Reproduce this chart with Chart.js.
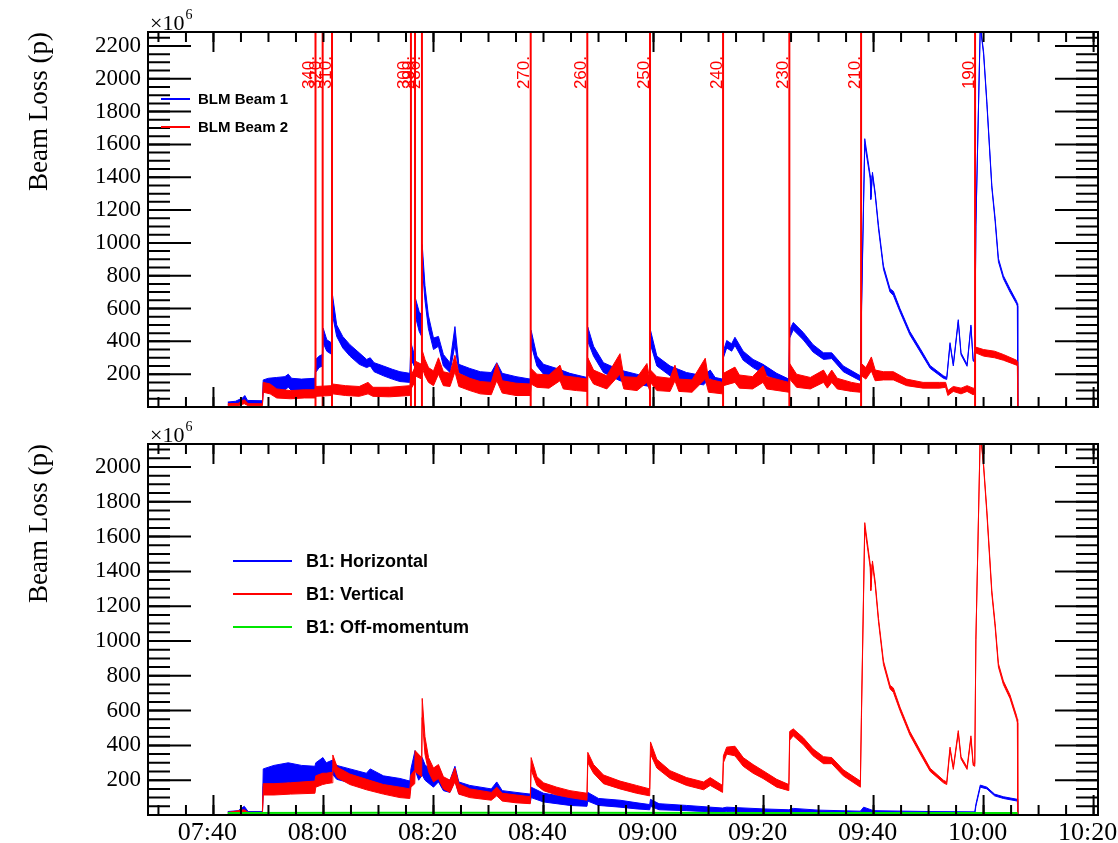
<!DOCTYPE html>
<html><head><meta charset="utf-8">
<script src="https://cdn.jsdelivr.net/npm/chart.js@4.4.1/dist/chart.umd.min.js"></script>
<style>
html,body{margin:0;padding:0;background:#fff;}
#wrap{position:relative;width:1118px;height:843px;overflow:hidden;}
canvas{position:absolute;left:0;}
#top{top:0;}
#bot{top:421px;}
</style></head><body>
<div id="wrap">
<canvas id="top" width="1118" height="422"></canvas>
<canvas id="bot" width="1118" height="422"></canvas>
</div>
<script>
// time = minutes since 07:00
// ---- top panel: [time, low edge of noise band, high edge] ----
const beam1 = [
[42.6,15,30],[44.0,18,35],[45.3,25,55],[45.7,40,70],[46.2,20,40],[48.9,18,38],
[49.05,95,165],[50.0,100,175],[51.5,95,180],[53.0,105,185],[53.6,120,200],[54.2,100,175],[56.0,100,170],[58.45,100,175],
[58.6,210,290],[59.2,240,310],[59.8,250,320],[59.95,390,480],[60.6,340,410],[61.5,320,390],[61.65,560,680],
[62.4,430,500],[63.5,360,430],[64.8,310,380],[66.5,260,330],[67.85,240,290],[68.5,250,300],[69.2,215,270],
[70.9,190,250],[72.5,170,230],[73.9,155,215],[75.7,150,205],[75.9,290,390],[76.5,250,320],[76.65,560,670],
[77.4,460,580],[77.85,430,560],[77.95,860,990],[78.45,650,740],[79.06,480,560],[80.0,350,420],[80.9,370,430],
[81.8,250,320],[83.0,210,270],[83.9,380,490],[84.6,210,260],[86.6,170,235],[88.5,150,215],[90.5,140,210],
[91.5,200,270],[92.5,140,205],[95.0,120,185],[97.6,110,170],[97.75,380,467],[98.8,250,310],[100.0,200,260],
[102.4,170,235],[104.8,145,205],[107.9,120,180],[108.05,400,487],[109.1,310,370],[110.9,210,270],[113.9,160,225],
[116.9,140,200],[119.3,125,180],[119.45,380,467],[120.6,250,310],[123.0,190,250],[126.0,150,210],[129.1,135,190],
[130.3,175,225],[131.2,135,180],[132.55,120,170],[132.7,300,340],[133.3,360,405],[134.2,340,385],[134.8,375,425],
[136.3,285,340],[138.1,240,290],[139.9,205,260],[142.4,160,205],[144.6,135,170],[144.75,420,470],[145.4,470,515],
[147.2,410,455],[149.0,335,380],[150.9,290,330],[152.4,295,330],[154.5,215,250],[157.6,160,190],[157.8,560,600],
[158.4,1600,1635],[159.4,1390,1410],[159.5,1265,1280],[159.8,1415,1430],[160.3,1290,1305],[160.9,1085,1105],
[161.8,840,860],[163.0,700,720],[163.6,680,705],[164.8,580,600],[166.6,440,460],[168.5,335,355],[170.3,235,252],
[172.7,175,190],[173.3,168,180],[173.9,380,392],[174.5,250,260],[175.4,520,532],[175.9,318,330],[177.0,248,260],
[177.7,490,500],[178.1,280,290],[178.4,275,285],[178.6,1100,1110],[179.4,2320,2330],[180.0,2150,2165],
[180.6,1845,1860],[181.5,1335,1350],[182.1,1130,1150],[182.7,885,905],[183.6,782,800],[184.8,700,720],
[186.0,628,645],[186.15,615,630],[186.2,0,0]
];
const beam2 = [
[42.6,8,20],[44.5,8,22],[45.6,20,45],[46.3,8,20],[48.9,8,20],[49.05,90,150],[50.3,80,140],[51.5,55,110],
[54.0,50,100],[56.5,55,105],[58.45,55,105],[58.6,65,125],[61.5,70,130],[61.65,80,140],[64.0,70,130],[66.5,65,125],
[68.1,80,150],[69.0,65,120],[72.0,62,120],[75.7,70,130],[75.9,110,190],[76.6,150,240],[76.65,190,280],[77.85,170,260],
[77.95,240,345],[78.45,190,290],[79.1,150,240],[80.0,130,220],[80.9,200,300],[81.8,130,215],[83.0,125,205],
[83.9,215,315],[84.6,125,205],[86.6,100,175],[88.5,80,155],[90.5,75,150],[91.5,160,265],[92.5,85,160],[95.0,70,145],
[97.6,70,140],[97.75,140,235],[98.8,120,200],[101.0,115,195],[103.0,160,255],[103.6,110,190],[106.0,100,180],
[107.9,95,170],[108.05,200,300],[109.1,140,225],[111.5,110,190],[113.9,200,325],[114.6,110,185],[117.0,100,180],
[118.8,150,265],[119.3,100,170],[119.45,150,225],[120.6,100,185],[123.0,95,175],[123.9,160,255],[124.6,95,170],
[127.0,90,165],[129.4,170,297],[130.0,90,170],[132.55,80,150],[132.7,130,205],[134.8,150,243],[135.6,115,195],
[138.0,110,185],[139.9,150,250],[140.6,110,185],[144.6,90,150],[144.75,170,265],[146.0,120,200],[148.5,110,180],
[150.9,150,225],[151.6,115,185],[152.4,150,225],[153.4,110,175],[156.0,95,150],[157.6,90,140],[157.8,190,265],
[158.6,170,240],[159.6,220,305],[160.3,160,225],[161.8,165,215],[163.6,165,215],[166.0,130,170],[169.0,115,150],
[172.0,115,150],[173.1,120,150],[173.5,70,100],[174.5,95,125],[175.9,80,115],[177.0,95,130],[178.1,75,115],
[178.4,80,115],[178.55,330,365],[180.0,310,350],[182.0,300,340],[183.6,285,320],[186.0,255,285],[186.15,250,275],
[186.2,0,0]
];
const collimatorTimes = [58.55,59.85,61.55,75.9,76.64,77.9,97.67,107.96,119.36,132.64,144.69,157.73,178.45];
const collimatorLabels = ['340.','320.','310.','300.','290.','280.','270.','260.','250.','240.','230.','210.','190.'];

// ---- bottom panel ----
const horizontal = [
[42.6,5,20],[44.5,8,25],[45.6,15,50],[46.3,5,20],[48.9,5,20],[49.05,165,265],[51.0,175,285],[53.6,185,300],
[56.0,175,285],[58.45,175,280],[58.6,210,300],[59.9,240,330],[60.5,220,300],[61.6,235,315],[62.4,205,285],
[64.8,185,265],[67.8,160,240],[68.5,180,265],[70.9,150,225],[73.9,135,210],[75.7,125,195],[75.9,175,265],
[76.65,260,370],[77.3,200,290],[77.95,230,330],[78.45,200,290],[80.0,160,240],[80.9,190,280],[81.8,140,210],
[83.0,130,200],[83.9,200,280],[84.6,120,190],[86.6,110,170],[90.5,90,150],[91.5,130,190],[92.5,85,140],
[95.0,75,130],[97.6,70,120],[97.75,100,160],[100.0,75,125],[104.8,55,100],[107.9,50,90],[108.05,80,130],
[110.0,55,95],[113.9,45,85],[117.0,35,70],[119.3,30,60],[119.45,50,90],[121.0,30,65],[126.0,25,55],
[132.55,15,40],[133.3,20,45],[140.0,10,35],[144.6,10,30],[145.4,12,38],[150.0,8,28],[157.6,6,22],
[158.2,15,45],[160.0,8,25],[170.0,5,20],[178.4,5,18],[178.6,50,62],[179.4,160,172],[180.6,150,160],
[182.0,110,120],[183.6,95,105],[186.15,80,90],[186.2,0,0]
];
const vertical = [
[42.6,5,15],[45.6,10,30],[46.3,5,15],[48.9,5,15],[49.05,115,180],[51.0,115,180],[54.0,120,185],[58.45,125,195],
[58.6,160,225],[59.85,175,240],[60.5,180,240],[61.55,185,245],[61.7,270,345],[62.5,215,275],[64.8,175,235],
[67.8,145,205],[70.9,120,175],[73.9,100,160],[75.7,95,150],[75.9,160,230],[76.6,180,260],[76.65,250,370],
[77.85,220,330],[77.95,560,670],[78.45,350,450],[79.1,250,330],[80.0,190,270],[80.9,210,290],[81.8,150,220],
[83.0,130,200],[83.9,190,270],[84.6,120,180],[86.6,100,150],[90.5,85,130],[91.5,110,160],[92.5,80,125],
[95.0,70,115],[97.6,65,105],[97.75,260,330],[98.8,170,220],[100.0,140,185],[102.4,115,160],[104.8,100,140],
[107.9,85,125],[108.05,300,360],[109.1,240,290],[110.9,180,230],[113.9,150,195],[116.9,125,170],[119.3,110,150],
[119.45,350,420],[120.6,270,320],[123.0,210,255],[126.0,170,215],[129.1,145,190],[130.3,170,215],[132.55,130,170],
[132.7,300,340],[133.3,350,390],[134.8,340,395],[136.3,280,330],[138.1,240,290],[139.9,210,255],[142.4,160,205],
[144.6,140,175],[144.75,430,480],[145.4,455,495],[147.2,405,445],[149.0,340,380],[150.9,295,335],[152.4,295,330],
[154.5,225,260],[157.6,160,195],[157.8,560,600],[158.4,1650,1680],[159.4,1420,1440],[159.5,1290,1310],
[159.8,1440,1460],[160.3,1320,1340],[160.9,1110,1130],[161.8,865,885],[163.0,725,745],[163.6,705,730],
[164.8,600,620],[166.6,460,480],[168.5,350,370],[170.3,250,268],[172.7,185,200],[173.3,175,190],[173.9,375,390],
[174.5,262,275],[175.4,470,485],[175.9,322,335],[177.0,262,275],[177.7,440,455],[178.1,285,300],[178.4,280,295],
[178.6,1000,1010],[179.4,2200,2210],[180.0,2000,2015],[180.6,1730,1750],[181.5,1270,1290],[182.1,1080,1100],
[182.7,850,870],[183.6,750,770],[184.8,670,690],[186.0,550,570],[186.15,530,550],[186.2,0,0]
];
const offMomentum = [[42.6,12],[70.0,13],[100.0,13],[140.0,12],[186.2,12]];

// ---- axis ticks ----
const topYTicks = [200,400,600,800,1000,1200,1400,1600,1800,2000,2200];
const botYTicks = [200,400,600,800,1000,1200,1400,1600,1800,2000];
const topXMajor = [40,80,120,160,200];
const botXTicks = [40,60,80,100,120,140,160,180,200];
const botXLabels = ['07:40','08:00','08:20','08:40','09:00','09:20','09:40','10:00','10:20'];

const BLUE = '#0000ff', RED = '#ff0000', GREEN = '#00e600';
const X_MIN = 28.1, X_MAX = 200.8;

function range(a, b, s){ const r=[]; for(let v=a; v<=b+1e-9; v+=s) r.push(v); return r; }
const xMinor = range(30, 200, 5);
const yMinorTop = range(0, 2250, 50);
const yMinorBot = range(50, 2100, 50);

function toPts(arr, k){ return arr.map(p => ({x:p[0], y:p[k]})); }
function band(arr, color, label){
  return [
    {data: toPts(arr,1), borderColor: color, borderWidth: 1, pointRadius: 0, fill: false},
    {label: label, data: toPts(arr,2), borderColor: color, backgroundColor: color, borderWidth: 1, pointRadius: 0, fill: '-1'}
  ];
}

const rootFrame = {
  id: 'rootFrame',
  afterDatasetsDraw(chart, args, o){
    const {ctx, chartArea: a, scales: {x, y}} = chart;
    ctx.save();
    if (o.lines) {
      ctx.strokeStyle = RED; ctx.lineWidth = 2;
      o.lines.forEach((t, i) => {
        const px = x.getPixelForValue(t);
        ctx.beginPath(); ctx.moveTo(px, a.top); ctx.lineTo(px, a.bottom); ctx.stroke();
        ctx.save();
        ctx.translate(px - 1.5, a.top + 24);
        ctx.rotate(-Math.PI/2);
        ctx.font = '17px "Liberation Sans", Arial, sans-serif';
        ctx.fillStyle = RED; ctx.textAlign = 'right'; ctx.textBaseline = 'alphabetic';
        ctx.fillText(o.lineLabels[i], 0, 0);
        ctx.restore();
      });
    }
    ctx.strokeStyle = '#000'; ctx.lineWidth = 2;
    const vx = (vals, len) => vals.forEach(v => {
      const px = x.getPixelForValue(v);
      if (px < a.left + 1 || px > a.right - 1) return;
      ctx.beginPath();
      ctx.moveTo(px, a.bottom); ctx.lineTo(px, a.bottom - len);
      ctx.moveTo(px, a.top); ctx.lineTo(px, a.top + len);
      ctx.stroke();
    });
    const vy = (vals, len) => vals.forEach(v => {
      const py = y.getPixelForValue(v);
      if (py < a.top + 1 || py > a.bottom - 1) return;
      ctx.beginPath();
      ctx.moveTo(a.left, py); ctx.lineTo(a.left + len, py);
      ctx.moveTo(a.right, py); ctx.lineTo(a.right - len, py);
      ctx.stroke();
    });
    vx(o.xMinor, o.xLen[1]); vx(o.xMajor, o.xLen[0]);
    vy(o.yMinor, o.yLen[1]); vy(o.yMajor, o.yLen[0]);
    ctx.strokeRect(a.left, a.top, a.right - a.left, a.bottom - a.top);
    ctx.fillStyle = '#000';
    ctx.font = '22px "Liberation Serif", serif';
    ctx.textAlign = 'left'; ctx.textBaseline = 'alphabetic';
    ctx.fillText('\u00d710', a.left + 2, a.top - 2);
    const w = ctx.measureText('\u00d710').width;
    ctx.font = '14px "Liberation Serif", serif';
    ctx.fillText('6', a.left + 3 + w, a.top - 13);
    const L = o.legend;
    L.items.forEach((di, i) => {
      const ds = chart.data.datasets[di];
      const yy = a.top + L.y + i * L.dy;
      ctx.strokeStyle = ds.borderColor; ctx.lineWidth = 2;
      ctx.beginPath(); ctx.moveTo(L.x, yy); ctx.lineTo(L.x + L.len, yy); ctx.stroke();
      ctx.fillStyle = '#000'; ctx.font = 'bold ' + L.size + 'px "Liberation Sans", Arial, sans-serif';
      ctx.textBaseline = 'middle';
      ctx.fillText(ds.label, L.x + L.len + L.gap, yy + 1);
    });
    ctx.restore();
  }
};

function yAxis(min, max, ticks){
  return {
    min: min, max: max,
    grid: {display: false, drawTicks: false}, border: {display: false},
    afterBuildTicks(s){ s.ticks = ticks.map(v => ({value: v})); },
    ticks: {font: {family: '"Liberation Serif", serif', size: 23}, color: '#000', padding: 7, autoSkip: false,
            callback: v => String(v)},
    title: {display: true, text: 'Beam Loss (p)', align: 'end', color: '#000',
            font: {family: '"Liberation Serif", serif', size: 27}, padding: {top: 24, bottom: 0}},
    afterFit(s){ s.width = 148; s.paddingTop = 0; s.paddingBottom = 0; }
  };
}

new Chart(document.getElementById('top'), {
  type: 'line',
  data: {datasets: [...band(beam2, RED, 'BLM Beam 2'), ...band(beam1, BLUE, 'BLM Beam 1')]},
  plugins: [rootFrame],
  options: {
    responsive: false, animation: false, events: [],
    layout: {padding: {top: 32, right: 20, left: 0, bottom: 0}},
    scales: {
      x: {type: 'linear', min: X_MIN, max: X_MAX, grid: {display: false, drawTicks: false}, border: {display: false},
          ticks: {display: false},
          afterFit(s){ s.height = 15; s.paddingLeft = 0; s.paddingRight = 0; }},
      y: yAxis(0, 2285, topYTicks)
    },
    plugins: {
      legend: {display: false}, tooltip: {enabled: false},
      rootFrame: {xMajor: topXMajor, xMinor: xMinor, yMajor: topYTicks, yMinor: yMinorTop,
                  xLen: [20, 10], yLen: [43, 22], lines: collimatorTimes, lineLabels: collimatorLabels,
                  legend: {items: [3, 1], x: 161, y: 67, dy: 28, len: 29, gap: 8, size: 15}}
    }
  }
});

new Chart(document.getElementById('bot'), {
  type: 'line',
  data: {datasets: [
    {label: 'B1: Off-momentum', data: offMomentum.map(p => ({x: p[0], y: p[1]})), borderColor: GREEN, borderWidth: 2, pointRadius: 0, fill: false},
    ...band(vertical, RED, 'B1: Vertical'),
    ...band(horizontal, BLUE, 'B1: Horizontal')
  ]},
  plugins: [rootFrame],
  options: {
    responsive: false, animation: false, events: [],
    layout: {padding: {top: 23, right: 20, left: 0, bottom: 0}},
    scales: {
      x: {type: 'linear', min: X_MIN, max: X_MAX, grid: {display: false, drawTicks: false}, border: {display: false},
          afterBuildTicks(s){ s.ticks = botXTicks.map(v => ({value: v})); },
          ticks: {font: {family: '"Liberation Serif", serif', size: 26}, color: '#000', padding: 3, autoSkip: false,
                  maxRotation: 0, labelOffset: -6, callback: (v, i) => botXLabels[i]},
          afterFit(s){ s.height = 28; s.paddingLeft = 0; s.paddingRight = 0; }},
      y: yAxis(0, 2132, botYTicks)
    },
    plugins: {
      legend: {display: false}, tooltip: {enabled: false},
      rootFrame: {xMajor: botXTicks, xMinor: xMinor, yMajor: botYTicks, yMinor: yMinorBot,
                  xLen: [20, 10], yLen: [43, 22],
                  legend: {items: [4, 2, 0], x: 233, y: 117, dy: 33, len: 59, gap: 14, size: 18}}
    }
  }
});
</script>
</body></html>
